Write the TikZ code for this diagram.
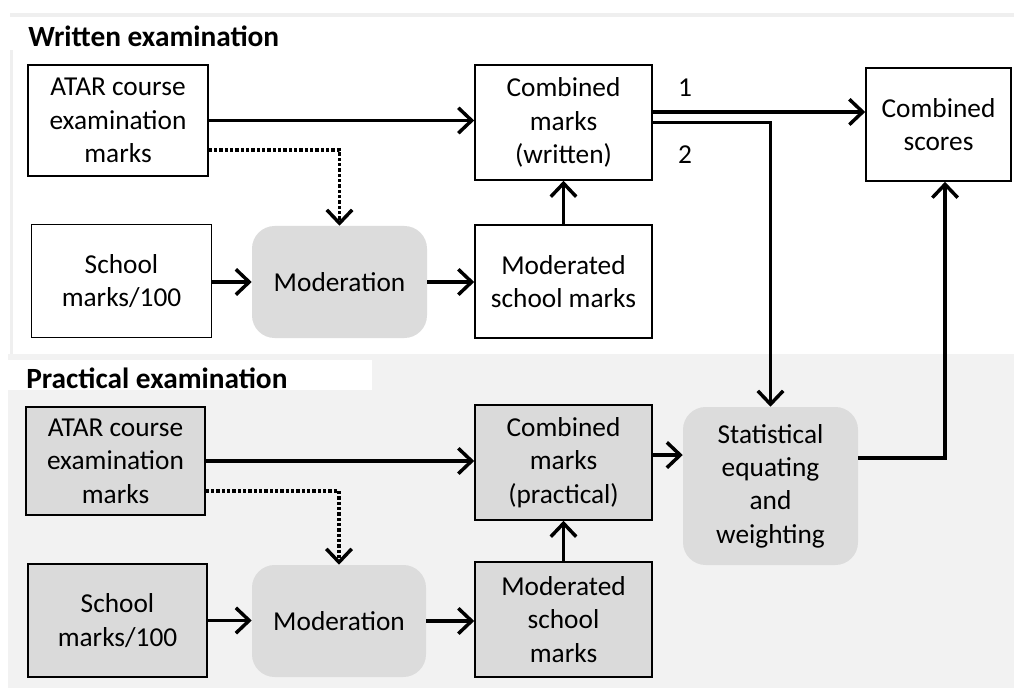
\documentclass[tikz,border=0pt]{standalone}
\usepackage{fontspec}
\setmainfont{Carlito}
\usetikzlibrary{arrows.meta}
\definecolor{bgP}{HTML}{F2F2F2}
\definecolor{frameW}{HTML}{EFEFEF}
\definecolor{boxP}{HTML}{DADADA}
\definecolor{rnd}{HTML}{DCDCDC}
\begin{document}
\begin{tikzpicture}[x=0.75pt,y=-0.75pt,
 txt/.style={font=\fontsize{20.5}{25}\selectfont, align=center},
 wbox/.style={txt, draw=black, line width=1.2pt, fill=white, inner sep=0pt},
 pbox/.style={wbox, fill=boxP},
 rbox/.style={txt, fill=rnd, rounded corners=17pt, inner sep=0pt},
 arr/.style={line width=2.6pt, -{Straight Barb[length=10pt,width=19pt]}},
 dotarr/.style={arr, dash pattern=on 2.4pt off 1.6pt},
 title/.style={font=\fontsize{22}{24}\selectfont\bfseries, anchor=base west, inner sep=0pt},
 num/.style={txt}
]
\useasboundingbox (0,0) rectangle (1014,688);
% backgrounds
\fill[frameW] (10,13) rectangle (1014,360);
\fill[white] (13,17) rectangle (1014,354);
\fill[white] (8,17) rectangle (380,50);
\fill[bgP] (8,354) rectangle (1014,688);
\fill[white] (8,360) rectangle (372,390);
\node[title] (tW) at (28,47) {Written examination};
\node[title] (tP) at (26,388) {Practical examination};
% written nodes
\node[wbox, minimum width=135pt, minimum height=83.25pt] (atarW) at (118,120.5) {ATAR course\\examination\\marks};
\node[wbox, minimum width=132.75pt, minimum height=86.25pt] (combW) at (563.5,122.5) {Combined\\marks\\(written)};
\node[wbox, minimum width=108.75pt, minimum height=84.75pt] (scores) at (938.5,124.5) {Combined\\scores};
\node[wbox, minimum width=135pt, minimum height=84.75pt] (schoolW) at (121.5,281) {School\\marks/100};
\node[rbox, minimum width=131.25pt, minimum height=84pt] (modW) at (339.5,282) {Moderation};
\node[wbox, minimum width=132.75pt, minimum height=84.75pt] (modedW) at (563.5,281.5) {Moderated\\school marks};
% practical nodes
\node[pbox, minimum width=134.25pt, minimum height=81pt] (atarP) at (115.5,461) {ATAR course\\examination\\marks};
\node[pbox, minimum width=132.75pt, minimum height=86.25pt] (combP) at (563.5,462.5) {Combined\\marks\\(practical)};
\node[rbox, minimum width=131.25pt, minimum height=118.5pt] (stat) at (770.5,486) {Statistical\\equating\\and\\weighting};
\node[pbox, minimum width=134.25pt, minimum height=84.75pt] (schoolP) at (117.5,620.5) {School\\marks/100};
\node[rbox, minimum width=130.5pt, minimum height=84pt] (modP) at (339,621) {Moderation};
\node[pbox, minimum width=132.75pt, minimum height=86.25pt] (modedP) at (563.5,619.5) {Moderated\\school\\marks};
% labels
\node[num] (n1) at (685,88) {1};
\node[num] (n2) at (685,155) {2};
% written connectors
\draw[arr] (atarW.east) -- (atarW.east -| combW.west);
\draw[dotarr] ([yshift=-22pt]atarW.east) -| (modW.north);
\draw[arr] (modW.west -| schoolW.east) -- (modW.west);
\draw[arr] (modW.east) -- (modW.east -| modedW.west);
\draw[arr] (modedW.north) -- (combW.south);
\draw[arr] ([yshift=7.9pt]combW.east) coordinate (l1) -- (l1 -| scores.west);
\draw[arr] (combW.east) -| (stat.north);
\coordinate (cs) at ([xshift=4.9pt]scores.south);
\draw[arr] ([yshift=21pt]stat.east) -| (cs);
% practical connectors
\draw[arr] (atarP.east) -- (atarP.east -| combP.west);
\draw[dotarr] ([yshift=-22.5pt]atarP.east) -| (modP.north);
\draw[arr] (schoolP.east) -- (schoolP.east -| modP.west);
\draw[arr] (modP.east) -- (modP.east -| modedP.west);
\draw[arr] (modedP.north) -- (combP.south);
\draw[arr] ([yshift=5.6pt]combP.east) coordinate (c2) -- (c2 -| stat.west);
\end{tikzpicture}
\end{document}
